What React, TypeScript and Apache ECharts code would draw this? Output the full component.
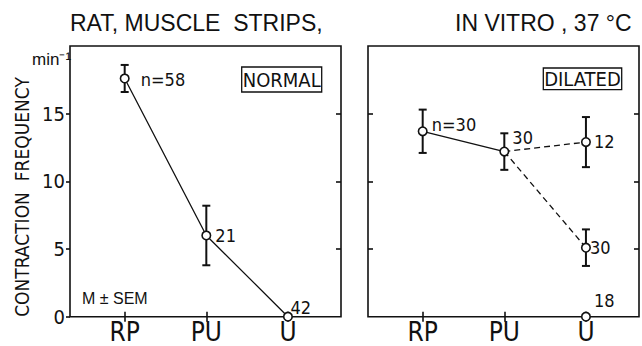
import React, { useEffect, useRef } from 'react';
import * as echarts from 'echarts';

// ---------- data ----------
const categories = ['RP', 'PU', 'U'];
const categoryX = [1, 2, 3];
const yTickValues = [0, 5, 10, 15];
const yTitle = 'CONTRACTION\u00a0\u00a0FREQUENCY';

// NORMAL panel
const normalX = [1, 2, 3];
const normalMean = [17.6, 6.0, 0];
const normalSem = [1.0, 2.2, 0];
const normalN = ['n=58', '21', '42'];

// DILATED panel (three points at U)
const dilatedX = [1, 2, 3, 3, 3];
const dilatedMean = [13.7, 12.2, 12.9, 5.1, 0];
const dilatedSem = [1.6, 1.35, 1.85, 1.35, 0];
const dilatedN = ['n=30', '30', '12', '30', '18'];
const dilatedSolidPairs = [[0, 1]];
const dilatedDashedPairs = [[1, 2], [1, 3]];

// label offsets (style only)
const normalLabelOffset = [[6, 1], [-1, 0], [-7.5, -9]];
const dilatedLabelOffset = [[-1, -7], [-2, -14], [-2, -1], [-6, 0], [-2, -16]];

const INK = '#111';
const NARROW = "'Liberation Sans Narrow', 'DejaVu Sans Condensed', 'Liberation Sans', sans-serif";
const REG = "'Liberation Sans', Arial, sans-serif";

function errorSeries(xs: number[], means: number[], sems: number[], xAxisIndex: number, yAxisIndex: number) {
  const data = xs
    .map((x, i) => [x, means[i] - sems[i], means[i] + sems[i]])
    .filter((d) => d[2] > d[1]);
  return {
    type: 'custom',
    xAxisIndex,
    yAxisIndex,
    z: 2,
    silent: true,
    data,
    encode: { x: 0, y: [1, 2] },
    renderItem: (params: any, api: any) => {
      const x = api.value(0);
      const lo = api.coord([x, api.value(1)]);
      const hi = api.coord([x, api.value(2)]);
      const w = 4;
      const style = { stroke: INK, lineWidth: 2, fill: 'none' };
      return {
        type: 'group',
        children: [
          { type: 'line', shape: { x1: lo[0], y1: lo[1], x2: hi[0], y2: hi[1] }, style },
          { type: 'line', shape: { x1: lo[0] - w, y1: lo[1], x2: lo[0] + w, y2: lo[1] }, style },
          { type: 'line', shape: { x1: hi[0] - w, y1: hi[1], x2: hi[0] + w, y2: hi[1] }, style },
        ],
      };
    },
  };
}

function lineSeries(pts: number[][], dashed: boolean, xAxisIndex: number, yAxisIndex: number) {
  return {
    type: 'line',
    xAxisIndex,
    yAxisIndex,
    z: 3,
    silent: true,
    symbol: 'none',
    data: pts,
    lineStyle: { color: INK, width: 1.3, type: dashed ? [6, 4] : 'solid' },
  };
}

function markerSeries(xs: number[], means: number[], labels: string[], offsets: number[][], xAxisIndex: number, yAxisIndex: number) {
  return {
    type: 'scatter',
    xAxisIndex,
    yAxisIndex,
    z: 4,
    silent: true,
    symbol: 'circle',
    symbolSize: 8.5,
    itemStyle: { color: '#fff', borderColor: INK, borderWidth: 1.6, opacity: 1 },
    data: xs.map((x, i) => ({
      value: [x, means[i]],
      label: {
        show: true,
        position: 'right',
        distance: 5,
        offset: offsets[i],
        formatter: labels[i],
        fontSize: 18,
        fontFamily: NARROW,
        color: INK,
      },
    })),
  };
}

function xAxes(gridIndex: number) {
  const base = {
    type: 'value',
    gridIndex,
    min: 0.33,
    max: 3.65,
    position: 'bottom',
    axisLine: { show: false },
    splitLine: { show: false },
  };
  return [
    {
      ...base,
      axisTick: { show: true, customValues: categoryX, length: 5, inside: false, lineStyle: { color: INK, width: 1.6 } },
      axisLabel: {
        show: true,
        customValues: categoryX,
        formatter: (v: number) => categories[Math.round(v) - 1] ?? '',
        margin: 2,
        fontSize: 26,
        fontFamily: NARROW,
        color: INK,
      },
    },
    {
      ...base,
      axisTick: { show: true, customValues: categoryX, length: 5, inside: true, lineStyle: { color: INK, width: 1.6 } },
      axisLabel: { show: false },
    },
  ];
}

function yAxis(gridIndex: number, position: string, inside: boolean, withLabels: boolean) {
  return {
    type: 'value',
    gridIndex,
    position,
    min: 0,
    max: 20,
    axisLine: { show: false },
    splitLine: { show: false },
    axisTick: {
      show: true,
      customValues: inside ? [5, 10, 15] : yTickValues,
      length: inside ? 5 : 4,
      inside,
      lineStyle: { color: INK, width: 1.6 },
    },
    axisLabel: withLabels
      ? { show: true, customValues: yTickValues, margin: 5, fontSize: 20, fontFamily: NARROW, color: INK }
      : { show: false },
  };
}

export default function App() {
  const ref = useRef<HTMLDivElement>(null);

  useEffect(() => {
    if (!ref.current) return;
    const chart = echarts.init(ref.current, undefined, { renderer: 'svg' });

    const gridStyle = { show: true, borderColor: INK, borderWidth: 1.6, backgroundColor: 'transparent' };

    const dilatedPts = (pairs: number[][]) =>
      pairs.map((p) => p.map((i) => [dilatedX[i], dilatedMean[i]]));

    const series: any[] = [
      errorSeries(normalX, normalMean, normalSem, 0, 0),
      lineSeries(normalX.map((x, i) => [x, normalMean[i]]), false, 0, 0),
      markerSeries(normalX, normalMean, normalN, normalLabelOffset, 0, 0),
      errorSeries(dilatedX, dilatedMean, dilatedSem, 2, 2),
      ...dilatedPts(dilatedSolidPairs).map((pts) => lineSeries(pts, false, 2, 2)),
      ...dilatedPts(dilatedDashedPairs).map((pts) => lineSeries(pts, true, 2, 2)),
      markerSeries(dilatedX, dilatedMean, dilatedN, dilatedLabelOffset, 2, 2),
    ];

    chart.setOption({
      animation: false,
      backgroundColor: '#fff',
      grid: [
        { ...gridStyle, left: 70, top: 46, width: 271, height: 270.7 },
        { ...gridStyle, left: 368, top: 46, width: 271, height: 270.7 },
      ],
      xAxis: [...xAxes(0), ...xAxes(1)],
      yAxis: [
        yAxis(0, 'left', false, true),
        yAxis(0, 'right', true, false),
        yAxis(1, 'left', true, false),
        yAxis(1, 'right', true, false),
      ],
      series,
      graphic: [
        {
          type: 'text', x: 70, y: 23.3, silent: true,
          style: { text: 'RAT,\u00a0MUSCLE\u00a0\u00a0STRIPS,', fontSize: 23, fontFamily: REG, fill: INK, align: 'left', verticalAlign: 'middle' },
        },
        {
          type: 'text', x: 455, y: 23.3, silent: true,
          style: { text: 'IN\u00a0VITRO\u00a0,\u00a037\u00a0°C', fontSize: 23, fontFamily: REG, fill: INK, align: 'left', verticalAlign: 'middle' },
        },
        {
          type: 'text', x: 21.5, y: 197, rotation: Math.PI / 2, silent: true,
          style: { text: yTitle, fontSize: 19, fontFamily: NARROW, fill: INK, align: 'center', verticalAlign: 'middle' },
        },
        {
          type: 'text', x: 32, y: 59, silent: true,
          style: { text: 'min⁻¹', fontSize: 17, fontFamily: REG, fill: INK, align: 'left', verticalAlign: 'middle' },
        },
        {
          type: 'text', x: 82, y: 298, silent: true,
          style: { text: 'M\u00a0±\u00a0SEM', fontSize: 16, fontFamily: REG, fill: INK, align: 'left', verticalAlign: 'middle' },
        },
        {
          type: 'rect', silent: true,
          shape: { x: 241.7, y: 67, width: 80, height: 25 },
          style: { fill: 'none', stroke: INK, lineWidth: 1.3 },
        },
        {
          type: 'text', x: 281.7, y: 79.5, silent: true,
          style: { text: 'NORMAL', fontSize: 20, fontFamily: NARROW, fill: INK, align: 'center', verticalAlign: 'middle' },
        },
        {
          type: 'rect', silent: true,
          shape: { x: 543.3, y: 68, width: 78.4, height: 21.7 },
          style: { fill: 'none', stroke: INK, lineWidth: 1.3 },
        },
        {
          type: 'text', x: 582.5, y: 78.8, silent: true,
          style: { text: 'DILATED', fontSize: 20, fontFamily: NARROW, fill: INK, align: 'center', verticalAlign: 'middle' },
        },
      ],
    });

    return () => chart.dispose();
  }, []);

  return (
    <div
      ref={ref}
      style={{ position: 'fixed', left: 0, top: 0, width: 642, height: 346, background: '#fff' }}
    />
  );
}
